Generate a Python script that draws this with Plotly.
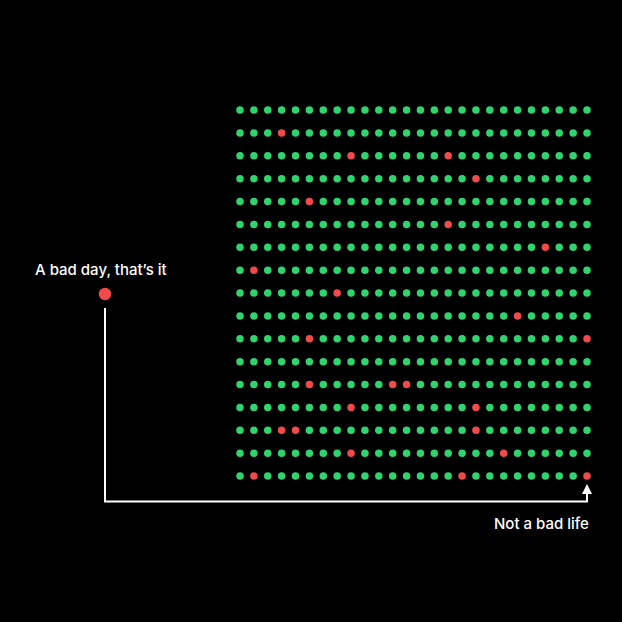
import plotly.graph_objects as go

N_COLS = 26
N_ROWS = 17
# bad days: (row, col) positions of red dots
bad_rows = [1, 2, 2, 3, 4, 5, 6, 7, 8, 9, 10, 10, 12, 12, 12, 13, 13, 14, 14, 14, 15, 15, 16, 16, 16]
bad_cols = [3, 8, 15, 17, 5, 15, 22, 1, 7, 20, 5, 25, 5, 11, 12, 8, 17, 3, 4, 17, 8, 19, 1, 16, 25]

label_bad_day = "A bad day, that\u2019s it"
label_life = "Not a bad life"

GREEN = "#2fd46f"
RED = "#f04a4a"
BG = "#000000"

bad = set(zip(bad_rows, bad_cols))
gx, gy, rx, ry = [], [], [], []
for r in range(N_ROWS):
    for c in range(N_COLS):
        if (r, c) in bad:
            rx.append(c); ry.append(r)
        else:
            gx.append(c); gy.append(r)

W = 622
fig = go.Figure()
fig.add_trace(go.Scatter(x=gx, y=gy, mode="markers",
                         marker=dict(size=7.5, color=GREEN, line=dict(width=0)),
                         hoverinfo="skip", showlegend=False))
fig.add_trace(go.Scatter(x=rx, y=ry, mode="markers",
                         marker=dict(size=7.5, color=RED, line=dict(width=0)),
                         hoverinfo="skip", showlegend=False))

# explanatory dot (pixel coords via xaxis2/yaxis2)
fig.add_trace(go.Scatter(x=[105], y=[294], mode="markers", xaxis="x2", yaxis="y2",
                         marker=dict(size=12.5, color=RED, line=dict(width=0)),
                         hoverinfo="skip", showlegend=False))

# pixel mapping for grid: col0 -> 240px, col25 -> 587px; row0 -> 110px, row16 -> 476px
dx = (587 - 240) / (N_COLS - 1)
dy = (476 - 110) / (N_ROWS - 1)
xr = [-240 / dx, (W - 240) / dx]
yr = [(W - 110) / dy, -110 / dy]

def px(x):
    return x / W

def py(y):
    return 1 - y / W

fig.update_layout(
    width=W, height=W,
    margin=dict(l=0, r=0, t=0, b=0),
    paper_bgcolor=BG, plot_bgcolor=BG,
    xaxis=dict(range=xr, visible=False, fixedrange=True),
    yaxis=dict(range=yr, visible=False, fixedrange=True),
    xaxis2=dict(range=[0, W], visible=False, overlaying="x"),
    yaxis2=dict(range=[W, 0], visible=False, overlaying="y"),
    font=dict(family="Inter, sans-serif", color="white"),
    shapes=[
        dict(type="path", xref="paper", yref="paper",
             path=f"M {px(105)},{py(308)} L {px(105)},{py(501.5)} L {px(587)},{py(501.5)} L {px(587)},{py(492)}",
             line=dict(color="white", width=2)),
        dict(type="path", xref="paper", yref="paper",
             path=f"M {px(582)},{py(494)} L {px(587)},{py(484)} L {px(592)},{py(494)} Z",
             fillcolor="white", line=dict(color="white", width=0)),
    ],
    annotations=[
        dict(text=label_bad_day, xref="paper", yref="paper", x=px(101), y=py(269),
             xanchor="center", yanchor="middle", showarrow=False,
             font=dict(size=15, color="white", family="Inter, sans-serif", weight=500)),
        dict(text=label_life, xref="paper", yref="paper", x=px(591), y=py(523),
             xanchor="right", yanchor="middle", showarrow=False,
             font=dict(size=15, color="white", family="Inter, sans-serif", weight=500)),
    ],
)

fig.write_html("out.html")
